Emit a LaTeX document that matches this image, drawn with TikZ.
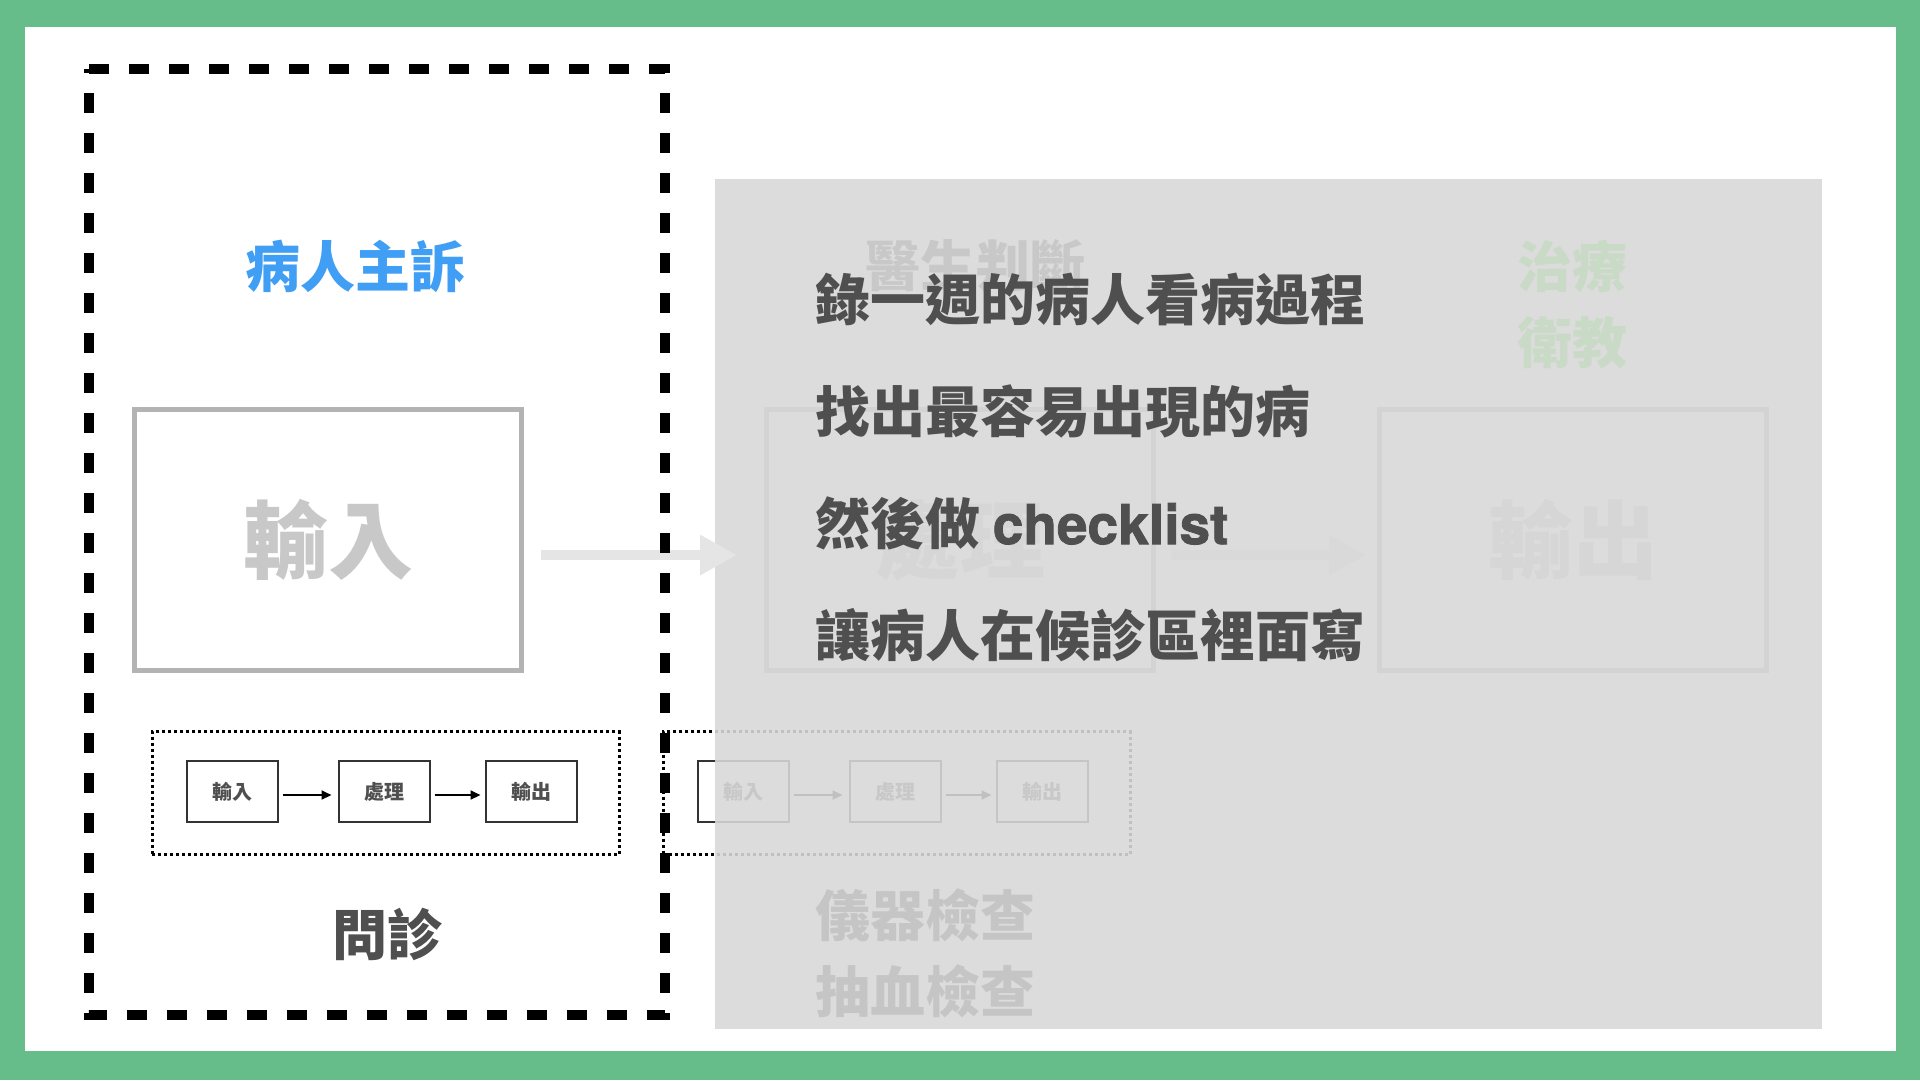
\documentclass[tikz,border=0pt]{standalone}
\usepackage{fontspec}
\newfontfamily\cjk{Noto Sans CJK TC}
\newfontfamily\latb{texgyreheros-bold.otf}[RawFeature={embolden=1.5}]
\usetikzlibrary{arrows.meta,calc}
\definecolor{framegreen}{RGB}{103,189,137}
\definecolor{txtdark}{RGB}{79,79,79}
\definecolor{blueT}{RGB}{64,158,245}
\definecolor{boxgray}{RGB}{179,179,179}
\definecolor{bigtxt}{RGB}{200,200,200}
\definecolor{arrowgray}{RGB}{229,229,229}
\definecolor{ovl}{RGB}{216,216,216}
\definecolor{greenT}{RGB}{201,219,198}
\definecolor{darkest}{RGB}{51,51,51}
\tikzset{
 bigbox/.style={draw=boxgray, line width=5pt, minimum width=387pt, minimum height=261pt, inner sep=0pt, text=bigtxt, font=\cjk\bfseries\fontsize{85pt}{90pt}\selectfont},
 bigarrow/.style={draw=arrowgray, line width=10pt, -{Triangle[length=37pt,width=38pt]}},
 smallbox/.style={draw=black!80, line width=2pt, minimum width=91pt, minimum height=61pt, inner sep=0pt, font=\cjk\bfseries\fontsize{20pt}{22pt}\selectfont, text=txtdark},
 smallarrow/.style={draw=black, line width=2pt, -{Triangle[length=10pt,width=9pt]}},
 dotbox/.style={draw=black, line width=3pt, dash pattern=on 3pt off 3pt, minimum width=467pt, minimum height=123pt, inner sep=0pt},
 heading/.style={font=\cjk\bfseries\fontsize{55pt}{60pt}\selectfont, inner sep=0pt},
 listline/.style={heading, text=txtdark, anchor=west},
}
\begin{document}
\begin{tikzpicture}[x=1pt,y=-1pt]
\useasboundingbox (0,0) rectangle (1920,1080);
\fill[framegreen] (0,0) rectangle (1920,1080);
\fill[white] (24.5,27) rectangle (1895.5,1051);

% ---- elements under the overlay ----
\node[bigbox] (proc) at (960,540) {處理};
\node[bigbox] (outb) at (1573,540) {輸出};
\draw[bigarrow, shorten <=15pt, shorten >=11pt] ($(proc.east)+(0,15)$) -- ($(outb.west)+(0,15)$);
\node[heading, text=txtdark] (doc) at (975,266) {醫生判斷};

\node[dotbox] (g2frame) at (896.9,793) {};
\node[smallbox] (g2in) at (743.4,791.5) {輸入};
\node[smallbox] (g2proc) at (895,791.5) {處理};
\node[smallbox] (g2out) at (1042,791.5) {輸出};
\draw[smallarrow, shorten <=4pt, shorten >=6pt] ($(g2in.east)+(0,3.5)$) -- ($(g2proc.west)+(0,3.5)$);
\draw[smallarrow, shorten <=4pt, shorten >=4pt] ($(g2proc.east)+(0,3.5)$) -- ($(g2out.west)+(0,3.5)$);

\node[heading, text=darkest, anchor=west] (exam1) at (815,915) {儀器檢查};
\node[heading, text=darkest, anchor=west] (exam2) at (815,991) {抽血檢查};

% ---- overlay ----
\fill[ovl, fill opacity=0.89] (715,179) rectangle (1822,1029);

% ---- elements on top ----
\node[bigbox] (in1) at (328,540) {輸入};
\draw[bigarrow, shorten <=17pt, shorten >=27pt] ($(in1.east)+(0,15)$) -- ($(proc.west)+(0,15)$);
\draw[line width=10pt, dash pattern=on 20pt off 20pt] (89,69) -- (665,69) -- (665,1015) -- (89,1015) -- cycle;

\node[heading, text=blueT] (chief) at (355,266) {病人主訴};
\node[heading, text=txtdark] (consult) at (387,934) {問診};

\node[dotbox] (g1frame) at (385.9,793) {};
\node[smallbox] (g1in) at (232.4,791.5) {輸入};
\node[smallbox] (g1proc) at (384,791.5) {處理};
\node[smallbox] (g1out) at (531,791.5) {輸出};
\draw[smallarrow, shorten <=4pt, shorten >=6pt] ($(g1in.east)+(0,3.5)$) -- ($(g1proc.west)+(0,3.5)$);
\draw[smallarrow, shorten <=4pt, shorten >=4pt] ($(g1proc.east)+(0,3.5)$) -- ($(g1out.west)+(0,3.5)$);

\node[heading, text=greenT] (treat) at (1572,266) {治療};
\node[heading, text=greenT] (edu) at (1572,343) {衛教};

\node[listline] (l1) at (815,299) {錄一週的病人看病過程};
\node[listline] (l2) at (815,411) {找出最容易出現的病};
\node[listline] (l3) at (815,523) {然後做 {\latb checklist}};
\node[listline] (l4) at (815,635) {讓病人在候診區裡面寫};
\end{tikzpicture}
\end{document}
